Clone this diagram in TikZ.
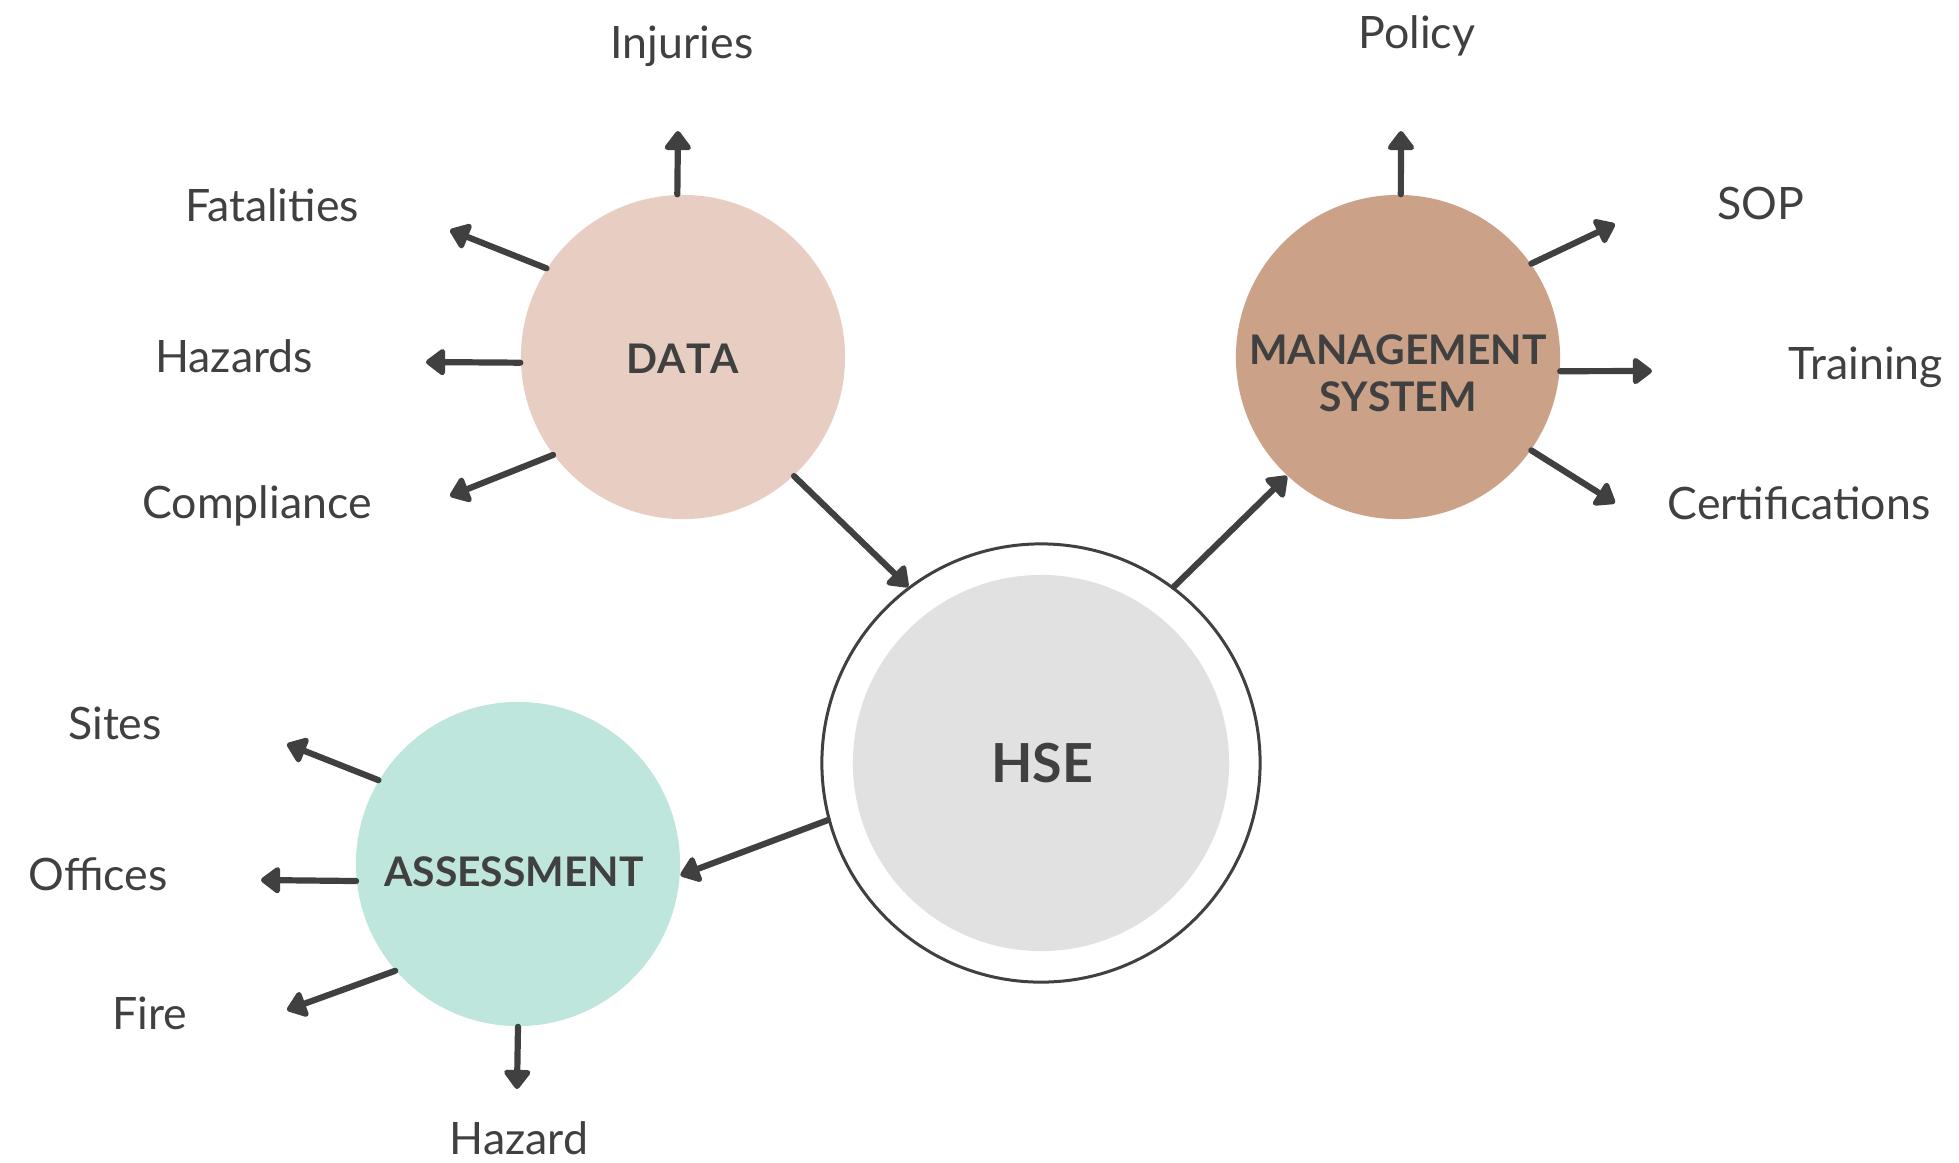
\documentclass[tikz,border=0pt]{standalone}
\usepackage{fontspec}
\setmainfont{Lato}[BoldFeatures={Kerning=Off}]
\usepackage{tikz}
\usetikzlibrary{arrows.meta}
\definecolor{ink}{HTML}{404040}
\definecolor{datafill}{HTML}{E8CDC2}
\definecolor{mgmtfill}{HTML}{CBA188}
\definecolor{assessfill}{HTML}{BEE6DC}
\definecolor{hsefill}{HTML}{E1E1E1}

\begin{document}
\begin{tikzpicture}[x=0.01cm, y=-0.01cm,
    hub/.style={circle, inner sep=0pt, minimum size=3.24cm},
    hubtext/.style={text=ink, align=center, font=\fontsize{11.6}{13.3}\selectfont\bfseries},
    leaf/.style={anchor=base, text=ink, font=\fontsize{12.7}{15}\selectfont},
    arr/.style={draw=ink, line width=0.062cm, line cap=round, -{Triangle[round, length=0.21cm, width=0.3cm]}}]
  \useasboundingbox (0,0) rectangle (1959,1162);

  \node[circle, draw=ink, line width=0.03cm, minimum size=4.38cm, inner sep=0pt] at (1041,763) (hse) {};
  \node[circle, fill=hsefill, minimum size=3.76cm, inner sep=0pt] at (1041,763) (hsecore) {};
  \node[hub, fill=datafill] at (683,357) (data) {};
  \node[hub, fill=mgmtfill] at (1398,357) (mgmt) {};
  \node[hub, fill=assessfill] at (518,864) (assess) {};

  \node[hubtext, anchor=base, font=\fontsize{15.3}{18}\selectfont\bfseries] at (1042,782) (hsetext) {HSE};
  \node[hubtext, anchor=base] at (683,373) (datatext) {DATA};
  \node[hubtext] at (1398,373) (mgmttext) {MANAGEMENT\\SYSTEM};
  \node[hubtext, anchor=base] at (514,886) (assesstext) {ASSESSMENT};

  \node[leaf] at (682,58) (injuries) {Injuries};
  \node[leaf] at (272,221) (fatalities) {Fatalities};
  \node[leaf] at (234,372) (hazards) {Hazards};
  \node[leaf] at (257,518) (compliance) {Compliance};
  \node[leaf] at (1417,48) (policy) {Policy};
  \node[leaf] at (1761,219) (sop) {SOP};
  \node[leaf] at (1866,379) (training) {Training};
  \node[leaf] at (1799,519) (certs) {Certifications};
  \node[leaf] at (115,739) (sites) {Sites};
  \node[leaf] at (98,890) (offices) {Offices};
  \node[leaf] at (150,1029) (fire) {Fire};
  \node[leaf] at (519,1154) (hazard) {Hazard};

  \coordinate (injE) at (678,131);
  \coordinate (fatE) at (450,230);
  \coordinate (hazsE) at (426,362);
  \coordinate (compE) at (450,496);
  \coordinate (polE) at (1401,131);
  \coordinate (sopE) at (1615,224);
  \coordinate (trainE) at (1652,371);
  \coordinate (certE) at (1615,503);
  \coordinate (sitesE) at (287,744);
  \coordinate (offE) at (261,880);
  \coordinate (fireE) at (287,1010);
  \coordinate (hazE) at (517,1089);

  \draw[arr] (data.92) -- (injE);
  \draw[arr] (data.147) -- (fatE);
  \draw[arr] (data.182) -- (hazsE);
  \draw[arr] (data.217) -- (compE);
  \draw[arr] (data.313) -- (hse.127);
  \draw[arr] (hse.53) -- (mgmt.227);
  \draw[arr] (hse.195) -- (assess.356);
  \draw[arr] (mgmt.89) -- (polE);
  \draw[arr] (mgmt.35) -- (sopE);
  \draw[arr] (mgmt.355) -- (trainE);
  \draw[arr] (mgmt.325) -- (certE);
  \draw[arr] (assess.149) -- (sitesE);
  \draw[arr] (assess.186) -- (offE);
  \draw[arr] (assess.221) -- (fireE);
  \draw[arr] (assess.270) -- (hazE);
\end{tikzpicture}
\end{document}
